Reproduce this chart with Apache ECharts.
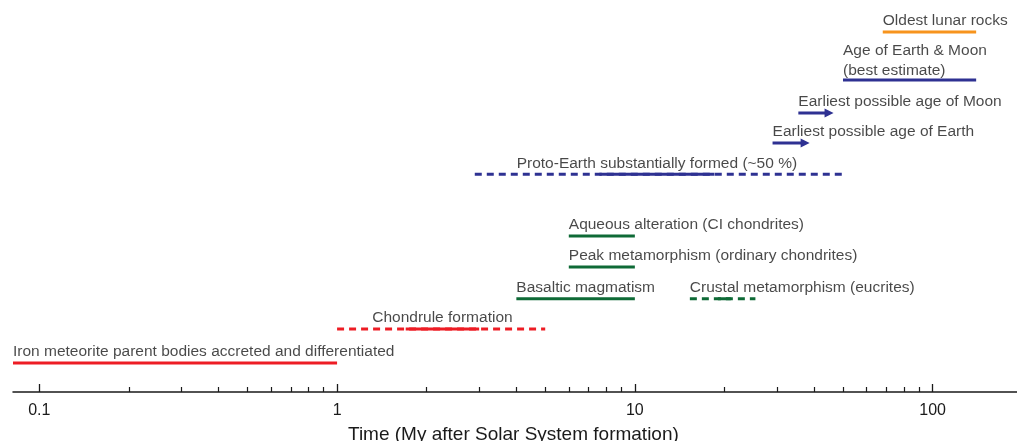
<!DOCTYPE html>
<html>
<head>
<meta charset="utf-8">
<script src="https://cdn.jsdelivr.net/npm/echarts@6/dist/echarts.min.js"></script>
<style>
html,body{margin:0;padding:0;background:#fff;}
#chart{width:1017px;height:441px;}
</style>
</head>
<body>
<div id="chart"></div>
<script>
// ---- data ----
const eventNames = [
  'Iron meteorite parent bodies accreted and differentiated',
  'Chondrule formation',
  'Basaltic magmatism',
  'Crustal metamorphism (eucrites)',
  'Peak metamorphism (ordinary chondrites)',
  'Aqueous alteration (CI chondrites)',
  'Proto-Earth substantially formed (~50 %)',
  'Earliest possible age of Earth',
  'Earliest possible age of Moon',
  'Age of Earth & Moon\n(best estimate)',
  'Oldest lunar rocks'
];
const eventRows  = [0, 1.08, 2.04, 2.04, 3.05, 4.04, 6, 7, 7.95, 9, 10.53];
const rangeStart = [0.0816, 1, 4, 15.3, 6, 6, 2.9, 29, 35.4, 50, 68];
const rangeEnd   = [1, 5, 10, 25.4, 10, 10, 50, 37.3, 44.9, 140, 140];
const coreStart  = [null, 1.7, null, 19, null, null, 7.6, null, null, null, null];
const coreEnd    = [null, 3.0, null, 21, null, null, 18.5, null, null, null, null];
const eventKind  = ['solid','dashed','solid','dashed','solid','solid','dashed','arrow','arrow','solid','solid'];
const eventGroup = ['nebula','nebula','parentBody','parentBody','parentBody','parentBody','earth','earth','earth','earth','moon'];
const labelAnchor = ['start','core','start','start','start','start','core','start','start','start','start'];
const majorTicks = [0.1, 1, 10, 100];
const minorTicks = [0.2,0.3,0.4,0.5,0.6,0.7,0.8,0.9, 2,3,4,5,6,7,8,9, 20,30,40,50,60,70,80,90];
const axisTitle = 'Time (My after Solar System formation)';

// ---- styles ----
const groupColor = {nebula:'#ed1c24', parentBody:'#0e6a36', earth:'#2e3192', moon:'#f7941d'};
const textColor = '#1a1a1a';
const FONT = '"Liberation Sans", Arial, Helvetica, sans-serif';
const xMin = 0.0816, xMax = 192;

const series = [];
const labelPoints = [];
eventNames.forEach((name, i) => {
  const color = groupColor[eventGroup[i]];
  const row = eventRows[i];
  const kind = eventKind[i];
  const base = {
    type: 'line', animation: false, silent: true, z: 3,
    symbol: 'none', showSymbol: false,
    lineStyle: {color: color, width: 3, cap: 'butt', type: kind === 'dashed' ? [7,5] : 'solid'},
    itemStyle: {color: color}
  };
  if (kind === 'arrow') {
    series.push(Object.assign({}, base, {
      symbol: 'path://M0,0 L10,5 L0,10 Z', symbolSize: [9, 9], showSymbol: true,
      data: [{value: [rangeStart[i], row], symbol: 'none'}, {value: [rangeEnd[i], row]}]
    }));
  } else {
    series.push(Object.assign({}, base, {data: [[rangeStart[i], row], [rangeEnd[i], row]]}));
  }
  if (coreStart[i] != null) {
    series.push(Object.assign({}, base, {
      z: 4,
      lineStyle: {color: color, width: 3, cap: 'butt', type: 'solid'},
      data: [[coreStart[i], row], [coreEnd[i], row]]
    }));
  }
  let lx, align;
  if (labelAnchor[i] === 'core') {
    lx = Math.sqrt(coreStart[i] * coreEnd[i]);
    align = 'center';
  } else {
    lx = rangeStart[i];
    align = 'left';
  }
  const multiLine = name.indexOf('\n') >= 0;
  labelPoints.push({value: [lx, row], name: name,
    label: {align: align, offset: multiLine ? [0, 3] : [0, 1]}});
});

series.push({
  type: 'scatter', animation: false, silent: true, symbolSize: 0, z: 5,
  data: labelPoints,
  label: {
    show: true, position: 'top', distance: 2,
    formatter: p => p.name,
    color: textColor, fontFamily: FONT, fontSize: 15.5, lineHeight: 20
  }
});

const chart = echarts.init(document.getElementById('chart'), null, {renderer: 'canvas'});
chart.setOption({
  animation: false,
  backgroundColor: '#ffffff',
  title: {
    text: axisTitle, left: 343, top: 420,
    textStyle: {fontFamily: FONT, fontSize: 19, fontWeight: 'normal', color: textColor}
  },
  grid: {left: 13, right: 0, top: 0, bottom: 49, containLabel: false, outerBoundsMode: 'none'},
  xAxis: [{
    type: 'log', logBase: 10, min: xMin, max: xMax, position: 'bottom',
    axisLine: {show: true, onZero: false, lineStyle: {color: textColor, width: 1.5}},
    axisTick: {show: true, inside: true, length: 8, customValues: majorTicks, lineStyle: {color: textColor, width: 1.3}},
    axisLabel: {show: true, customValues: majorTicks, margin: 11, formatter: v => String(v),
      color: textColor, fontFamily: FONT, fontSize: 16},
    splitLine: {show: false}, minorTick: {show: false}, minorSplitLine: {show: false}
  }, {
    type: 'log', logBase: 10, min: xMin, max: xMax, position: 'bottom', gridIndex: 0,
    axisLine: {show: false, onZero: false},
    axisTick: {show: true, inside: true, length: 5, customValues: minorTicks, lineStyle: {color: textColor, width: 1.2}},
    axisLabel: {show: false},
    splitLine: {show: false}
  }],
  yAxis: {
    type: 'value', min: -0.922, max: 11.546, show: false,
    splitLine: {show: false}
  },
  series: series
});
</script>
</body>
</html>
